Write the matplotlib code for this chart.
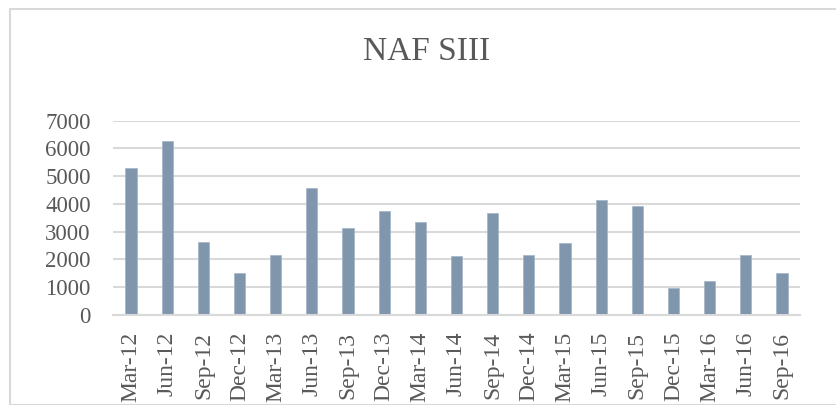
import matplotlib
matplotlib.use('Agg')
import matplotlib.pyplot as plt
from matplotlib.patches import Rectangle

# ---------------- data ----------------
quarters = ['Mar-12', 'Jun-12', 'Sep-12', 'Dec-12', 'Mar-13', 'Jun-13', 'Sep-13',
            'Dec-13', 'Mar-14', 'Jun-14', 'Sep-14', 'Dec-14', 'Mar-15', 'Jun-15',
            'Sep-15', 'Dec-15', 'Mar-16', 'Jun-16', 'Sep-16']
values = [5310, 6280, 2640, 1500, 2150, 4570, 3120, 3730, 3360, 2120,
          3660, 2160, 2600, 4130, 3910, 960, 1240, 2160, 1520]
yticks = [0, 1000, 2000, 3000, 4000, 5000, 6000, 7000]
title = 'NAF SIII'

# ---------------- styling ----------------
plt.rcParams['font.family'] = ['Liberation Serif', 'DejaVu Serif']
text_col = '#595959'
grid_col = '#D9D9D9'
bar_col = '#8096AD'

W, H = 837, 405
fig = plt.figure(figsize=(W / 100, H / 100), dpi=100)

# outer chart frame (light grey box, cut by the image edge)
fig.patches.append(Rectangle((10 / W, 0), 1.0, 1 - 8.5 / H, transform=fig.transFigure,
                             fill=False, edgecolor=grid_col, linewidth=1.5))

ax = fig.add_axes([113 / W, 1 - 315 / H, (800 - 113) / W, (315 - 120.7) / H])
x = range(len(quarters))
ax.bar(x, values, width=0.31, color=bar_col, edgecolor='#A8B8C8', linewidth=0.6, zorder=3)

ax.set_xlim(-0.5, len(quarters) - 0.5)
ax.set_ylim(0, 7000)
ax.set_yticks(yticks)
ax.set_yticklabels([str(v) for v in yticks])
ax.set_xticks(list(x))
ax.set_xticklabels(quarters, rotation=90)

ax.yaxis.grid(True, color=grid_col, linewidth=1.5, zorder=0)
ax.set_axisbelow(True)
for side in ['top', 'right', 'left']:
    ax.spines[side].set_visible(False)
ax.spines['bottom'].set_color(grid_col)
ax.spines['bottom'].set_linewidth(1.5)
ax.spines['bottom'].set_zorder(4)

ax.tick_params(axis='y', length=0, pad=16, labelsize=16.5, labelcolor=text_col)
ax.tick_params(axis='x', length=0, pad=12, labelsize=17, labelcolor=text_col)

fig.text(427 / W, 1 - 51.5 / H, title, ha='center', va='center',
         fontsize=24, color=text_col)

fig.savefig('out.png', dpi=100)
